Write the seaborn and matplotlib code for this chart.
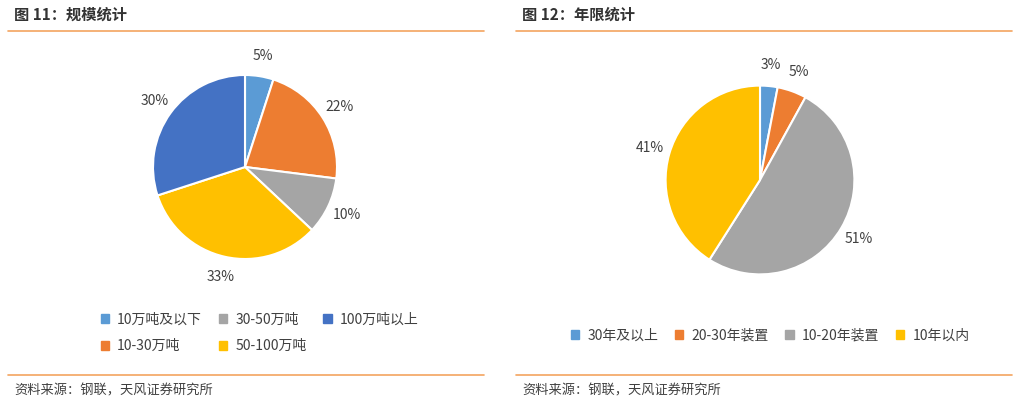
import matplotlib
matplotlib.use("Agg")
import matplotlib.pyplot as plt
import matplotlib.patches as mpatches
from matplotlib.lines import Line2D
import seaborn as sns

sns.set_theme(style="white")
plt.rcParams['font.family'] = ['Noto Sans CJK SC', 'DejaVu Sans']

scale_labels = ['10万吨及以下', '10-30万吨', '30-50万吨', '50-100万吨', '100万吨以上']
scale_values = [5, 22, 10, 33, 30]
age_labels = ['30年及以上', '20-30年装置', '10-20年装置', '10年以内']
age_values = [3, 5, 51, 41]

colors = ['#5B9BD5', '#ED7D31', '#A5A5A5', '#FFC000', '#4472C4']
orange = '#F4A460'
W, H = 1016, 404

fig = plt.figure(figsize=(W / 100, H / 100), dpi=100)

def px(x, y, w, h):
    return [x / W, 1 - (y + h) / H, w / W, h / H]

def draw_pie(rect, values, cols):
    ax = fig.add_axes(rect)
    ax.pie(values, colors=cols, startangle=90, counterclock=False,
           autopct='%d%%', pctdistance=1.22,
           wedgeprops=dict(edgecolor='white', linewidth=1.5),
           textprops=dict(fontsize=10, color='#404040'))
    ax.set_aspect('equal')
    return ax

draw_pie(px(130, 52, 230, 230), scale_values, colors)
draw_pie(px(642, 62, 236, 236), age_values, colors[:4])

# titles, rules and source lines
for x0, x1, title in [(8, 484, '图 11：规模统计'), (516, 1012, '图 12：年限统计')]:
    fig.text((x0 + 6) / W, 1 - 15 / H, title, fontsize=11, fontweight='bold',
             color='#333333', va='center')
    fig.add_artist(Line2D([x0 / W, x1 / W], [1 - 31 / H] * 2, color=orange, lw=1.2))
    fig.add_artist(Line2D([x0 / W, x1 / W], [1 - 375 / H] * 2, color=orange, lw=1.2))
    fig.text((x0 + 6) / W, 1 - 391 / H, '资料来源：钢联，天风证券研究所', fontsize=9.5,
             color='#404040', va='center')

def handles(labels, cols):
    return [mpatches.Patch(color=c, label=l) for l, c in zip(labels, cols)]

kw = dict(frameon=False, fontsize=10, handlelength=0.6, handleheight=0.6,
          handletextpad=0.6, columnspacing=1.2, labelcolor='#404040')
fig.legend(handles=handles(scale_labels, colors), ncol=3, loc='upper left',
           bbox_to_anchor=(88 / W, 1 - 300 / H), labelspacing=0.9, **kw)
fig.legend(handles=handles(age_labels, colors[:4]), ncol=4, loc='upper left',
           bbox_to_anchor=(558 / W, 1 - 316 / H), **kw)

fig.savefig('out.png', dpi=100)
